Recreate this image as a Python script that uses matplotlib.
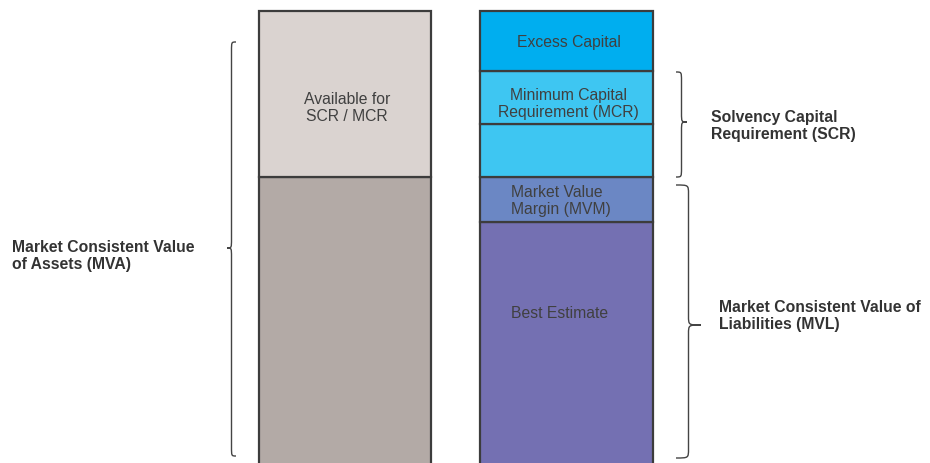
import matplotlib
matplotlib.use("Agg")
import matplotlib.pyplot as plt
from matplotlib.path import Path
from matplotlib.patches import PathPatch

plt.rcParams['font.family'] = ['Liberation Sans', 'DejaVu Sans']

# balance sheet blocks, stacked bottom to top
asset_labels = ["", "Available for\nSCR / MCR"]
asset_values = [295, 166]
asset_colors = ["#b3aaa6", "#dad3d0"]

liab_labels = ["Best Estimate", "Market Value\nMargin (MVM)", "",
               "Minimum Capital\nRequirement (MCR)", "Excess Capital"]
liab_values = [250, 45, 53, 53, 60]
liab_colors = ["#7470b2", "#6b87c4", "#3ec6f2", "#3ec6f2", "#00aeef"]

fig = plt.figure(figsize=(9.3, 4.63), dpi=100)
ax = fig.add_axes([0, 0, 1, 1])
ax.set_xlim(0, 930)
ax.set_ylim(9, 472)
ax.axis('off')

edge = "#3c3c3c"
txt = "#404040"


def stack(x, w, values, colors, labels, offsets, lefts):
    bottom = 0
    for v, c, lab, dy, lx in zip(values, colors, labels, offsets, lefts):
        ax.bar(x, v, width=w, bottom=bottom, color=c, edgecolor=edge,
               linewidth=1.6, align="edge")
        if lab:
            if lx is None:
                tx, ha = x + w / 2 + 2, "center"
            else:
                tx, ha = x + lx, "left"
            ax.text(tx, bottom + v / 2 + dy, lab, ha=ha, va="center",
                    fontsize=11.3, color=txt, linespacing=1.22)
        bottom += v


stack(259, 172, asset_values, asset_colors, asset_labels,
      [0, -14], [None, None])
stack(480, 173, liab_values, liab_colors, liab_labels,
      [34, -1.5, 0, -6.5, -1], [31, 31, None, None, None])


def brace(x, y0, y1, ym, w, q=9):
    # x: end of the arms, w: signed depth towards the tip
    s = x + w / 2
    t = x + w
    verts = [(x, y1), (s, y1), (s, y1), (s, y1 - q),
             (s, ym + q),
             (s, ym), (s, ym), (t, ym),
             (s, ym), (s, ym), (s, ym - q),
             (s, y0 + q),
             (s, y0), (s, y0), (x, y0)]
    codes = [Path.MOVETO, Path.CURVE4, Path.CURVE4, Path.CURVE4,
             Path.LINETO,
             Path.CURVE4, Path.CURVE4, Path.CURVE4,
             Path.CURVE4, Path.CURVE4, Path.CURVE4,
             Path.LINETO,
             Path.CURVE4, Path.CURVE4, Path.CURVE4]
    ax.add_patch(PathPatch(Path(verts, codes), facecolor="none",
                           edgecolor="#444444", linewidth=1.0))


H = 472
brace(236, H - 456, H - 42, H - 248, -9)
brace(676, H - 177, H - 72, H - 122, 11)
brace(676, H - 458, H - 185, H - 325, 25)

bold = dict(fontsize=11.3, fontweight="bold", color="#333333",
            va="center", ha="left", linespacing=1.22)
ax.text(12, H - 256, "Market Consistent Value\nof Assets (MVA)", **bold)
ax.text(711, H - 126, "Solvency Capital\nRequirement (SCR)", **bold)
ax.text(719, H - 316, "Market Consistent Value of\nLiabilities (MVL)", **bold)

fig.savefig("out.png", dpi=100)
